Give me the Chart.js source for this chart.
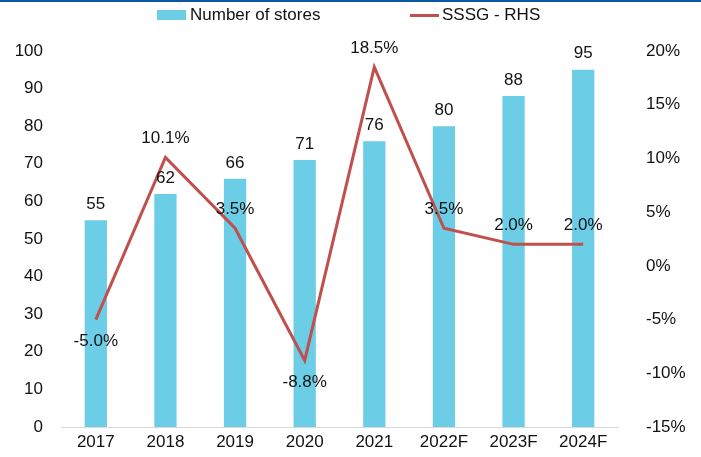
<!DOCTYPE html>
<html>
<head>
<meta charset="utf-8">
<script src="https://cdn.jsdelivr.net/npm/chart.js@4"></script>
<style>
  html, body { margin: 0; padding: 0; background: #fff; }
  #wrap { position: relative; width: 701px; height: 457px; overflow: hidden; }
  #topline { position: absolute; left: 0; top: 0; width: 701px; height: 2px; background: #0b58a4; }
  #legend { position: absolute; top: 5px; left: 0; width: 701px; height: 20px; font-family: "Liberation Sans", Arial, sans-serif; font-size: 17px; color: #111; }
  .item { position: absolute; top: 0; display: flex; align-items: center; height: 20px; }
  .sw-bar { width: 29px; height: 10px; background: #6bcde6; margin-right: 4px; }
  .sw-line { width: 29px; height: 3px; background: #c0504d; margin-right: 3px; }
  canvas { position: absolute; left: 0; top: 0; }
</style>
</head>
<body>
<div id="wrap">
  <canvas id="c" width="701" height="457"></canvas>
  <div id="topline"></div>
  <div id="legend">
    <div class="item" style="left:157px"><div class="sw-bar"></div>Number of stores</div>
    <div class="item" style="left:410px"><div class="sw-line"></div>SSSG - RHS</div>
  </div>
</div>
<script>
// categories and series
var YEARS = ['2017', '2018', '2019', '2020', '2021', '2022F', '2023F', '2024F'];
var STORES = [55, 62, 66, 71, 76, 80, 88, 95];
var SSSG = [-5.0, 10.1, 3.5, -8.8, 18.5, 3.5, 2.0, 2.0];
var SSSG_LABEL_SIDE = ['below', 'above', 'above', 'below', 'above', 'above', 'above', 'above'];

var FONT = '"Liberation Sans", Arial, sans-serif';

// draws value labels next to bars / points
var valueLabels = {
  id: 'valueLabels',
  afterDatasetsDraw: function (chart) {
    var ctx = chart.ctx;
    ctx.save();
    ctx.font = '17px ' + FONT;
    ctx.fillStyle = '#111';
    ctx.textAlign = 'center';
    ctx.textBaseline = 'middle';
    chart.getDatasetMeta(1).data.forEach(function (el, i) {
      ctx.fillText(String(STORES[i]), el.x, el.y - 16);
    });
    chart.getDatasetMeta(0).data.forEach(function (el, i) {
      var dy = SSSG_LABEL_SIDE[i] === 'below' ? 22 : -19;
      ctx.fillText(SSSG[i].toFixed(1) + '%', el.x, el.y + dy);
    });
    ctx.restore();
  }
};

// tick padding would otherwise push the plot area up from the bottom
function fixVertical(width) {
  return function (s) {
    s.width = width;
    s.paddingTop = 0;
    s.paddingBottom = 0;
  };
}

new Chart(document.getElementById('c'), {
  data: {
    labels: YEARS,
    datasets: [
      {
        type: 'line',
        label: 'SSSG - RHS',
        data: SSSG,
        yAxisID: 'y1',
        borderColor: '#c0504d',
        backgroundColor: '#c0504d',
        borderWidth: 3,
        pointRadius: 0,
        tension: 0,
        order: 0
      },
      {
        type: 'bar',
        label: 'Number of stores',
        data: STORES,
        yAxisID: 'y',
        backgroundColor: '#6bcde6',
        barPercentage: 0.32,
        categoryPercentage: 1,
        order: 1
      }
    ]
  },
  options: {
    responsive: false,
    animation: false,
    layout: { padding: { top: 51, left: 0, right: 0, bottom: 0 } },
    plugins: { legend: { display: false }, tooltip: { enabled: false } },
    scales: {
      x: {
        grid: { display: false, drawTicks: false },
        border: { display: true, color: '#d9d9d9', width: 1 },
        ticks: { color: '#111', font: { family: FONT, size: 17 }, padding: 5, maxRotation: 0 },
        afterFit: function (s) { s.height = 30; }
      },
      y: {
        position: 'left',
        min: 0, max: 100,
        grid: { display: false, drawTicks: false },
        border: { display: false },
        ticks: { stepSize: 10, color: '#111', font: { family: FONT, size: 17 }, padding: 18 },
        afterFit: fixVertical(61)
      },
      y1: {
        position: 'right',
        min: -15, max: 20,
        grid: { display: false, drawTicks: false },
        border: { display: false },
        ticks: {
          stepSize: 5, color: '#111', font: { family: FONT, size: 17 }, padding: 28,
          callback: function (v) { return v + '%'; }
        },
        afterFit: fixVertical(83)
      }
    }
  },
  plugins: [valueLabels]
});
</script>
</body>
</html>
